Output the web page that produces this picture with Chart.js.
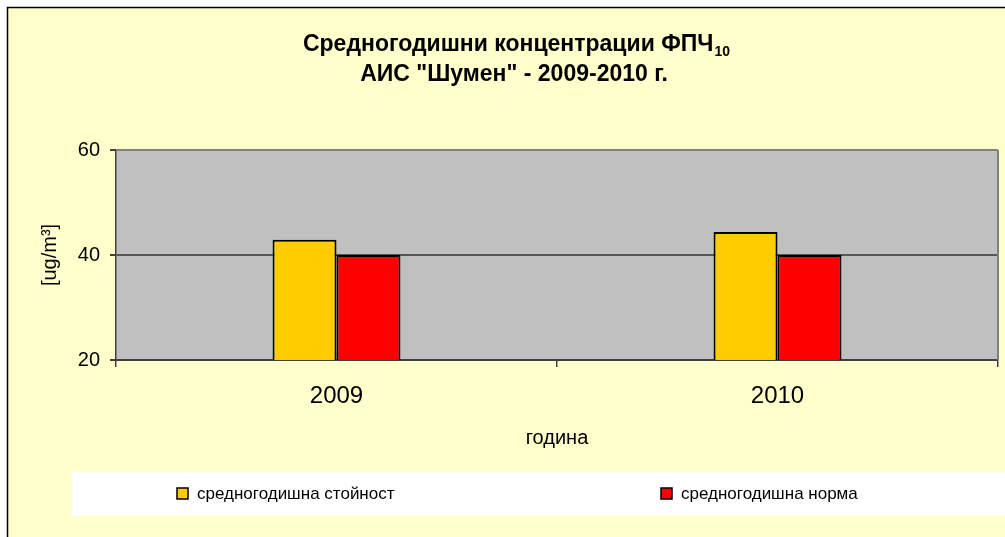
<!DOCTYPE html>
<html>
<head>
<meta charset="utf-8">
<script src="https://cdn.jsdelivr.net/npm/chart.js@4/dist/chart.umd.min.js"></script>
<style>
  html, body { margin: 0; padding: 0; background: #fff; }
  canvas { display: block; }
</style>
</head>
<body>
<canvas id="pm-chart" width="1005" height="537"></canvas>
<script>
// Chart data
const categories = ['2009', '2010'];
const annualMean = [42.9, 44.4];
const annualLimit = [40, 40];
const yTicks = [20, 40, 60];
const seriesNames = ['средногодишна стойност', 'средногодишна норма'];

const FONT = '"Liberation Sans", Arial, sans-serif';

// Background, plot area, title and legend drawn around the chart
const frame = {
    id: 'frame',
    beforeDraw(chart) {
        const ctx = chart.ctx;
        const a = chart.chartArea;
        ctx.save();
        ctx.fillStyle = '#ffffff';
        ctx.fillRect(0, 0, chart.width, chart.height);
        ctx.fillStyle = '#ffffcc';
        ctx.fillRect(8, 8, chart.width, chart.height);
        ctx.strokeStyle = '#000000';
        ctx.lineWidth = 1.5;
        ctx.strokeRect(7.5, 7.5, chart.width + 20, chart.height + 20);

        // plot area
        ctx.fillStyle = '#c0c0c0';
        ctx.fillRect(a.left, a.top, a.right - a.left, a.bottom - a.top);

        // title
        ctx.fillStyle = '#000000';
        ctx.textBaseline = 'middle';
        ctx.textAlign = 'left';
        const cx = 516;
        const main = 'Средногодишни концентрации ФПЧ';
        const sub = '10';
        ctx.font = 'bold 23px ' + FONT;
        const wMain = ctx.measureText(main).width;
        ctx.font = 'bold 14px ' + FONT;
        const wSub = ctx.measureText(sub).width;
        let x0 = cx - (wMain + wSub) / 2;
        ctx.font = 'bold 23px ' + FONT;
        ctx.fillText(main, x0, 45);
        ctx.font = 'bold 14px ' + FONT;
        ctx.fillText(sub, x0 + wMain + 1, 52);
        ctx.font = 'bold 23px ' + FONT;
        ctx.textAlign = 'center';
        ctx.fillText('АИС "Шумен" - 2009-2010 г.', cx - 2, 75);

        // legend box
        ctx.fillStyle = '#ffffff';
        ctx.fillRect(72, 472, chart.width - 72, 44);
        const items = [177, 661];
        ctx.font = '17px ' + FONT;
        ctx.textAlign = 'left';
        chart.data.datasets.forEach((ds, i) => {
            const lx = items[i];
            ctx.fillStyle = ds.backgroundColor;
            ctx.fillRect(lx, 488, 11, 11);
            ctx.strokeStyle = '#000000';
            ctx.lineWidth = 1.5;
            ctx.strokeRect(lx, 488, 11, 11);
            ctx.fillStyle = '#000000';
            ctx.fillText(ds.label, lx + 20, 494);
        });
        ctx.restore();
    },
    afterDatasetsDraw(chart) {
        const ctx = chart.ctx;
        const a = chart.chartArea;
        ctx.save();
        ctx.strokeStyle = '#808080';
        ctx.lineWidth = 2;
        ctx.beginPath();
        ctx.moveTo(a.right, a.top);
        ctx.lineTo(a.right, a.bottom);
        ctx.stroke();
        ctx.restore();
    }
};

const ctx = document.getElementById('pm-chart').getContext('2d');
const pmChart = new Chart(ctx, {
    type: 'bar',
    data: {
        labels: categories,
        datasets: [{
            label: seriesNames[0],
            data: annualMean,
            backgroundColor: '#ffcc00',
            borderColor: '#000000',
            borderWidth: 2
        }, {
            label: seriesNames[1],
            data: annualLimit,
            backgroundColor: '#ff0000',
            borderColor: '#000000',
            borderWidth: 2
        }]
    },
    options: {
        responsive: false,
        animation: false,
        events: [],
        layout: {
            padding: { left: 8, top: 150, right: 7, bottom: 77 }
        },
        datasets: {
            bar: {
                categoryPercentage: 0.29,
                barPercentage: 1.0
            }
        },
        plugins: {
            legend: { display: false },
            title: { display: false },
            tooltip: { enabled: false }
        },
        scales: {
            x: {
                afterFit(scale) { scale.height = 100; },
                grid: {
                    offset: true,
                    drawOnChartArea: false,
                    drawTicks: true,
                    tickLength: 7,
                    tickColor: '#404040',
                    lineWidth: 1.5
                },
                border: { display: true, color: '#404040', width: 2 },
                ticks: {
                    color: '#000000',
                    font: { family: FONT, size: 24 },
                    padding: 15
                },
                title: {
                    display: true,
                    text: 'година',
                    color: '#000000',
                    font: { family: FONT, size: 20 },
                    padding: { top: 0, bottom: 10 }
                }
            },
            y: {
                min: yTicks[0],
                max: yTicks[yTicks.length - 1],
                afterFit(scale) { scale.width = 108; },
                afterBuildTicks(scale) {
                    scale.ticks = yTicks.map(v => ({ value: v }));
                },
                grid: {
                    color: (c) => c.tick && c.tick.value === 60 ? '#808080' : '#555555',
                    lineWidth: 2,
                    drawTicks: true,
                    tickLength: 6,
                    tickColor: '#404040'
                },
                border: { display: true, color: '#404040', width: 1.5 },
                ticks: {
                    color: '#000000',
                    font: { family: FONT, size: 20 },
                    padding: 10
                },
                title: {
                    display: true,
                    text: '[ug/m³]',
                    color: '#000000',
                    font: { family: FONT, size: 20 },
                    padding: { top: 30, bottom: 0 }
                }
            }
        }
    },
    plugins: [frame]
});
</script>
</body>
</html>
